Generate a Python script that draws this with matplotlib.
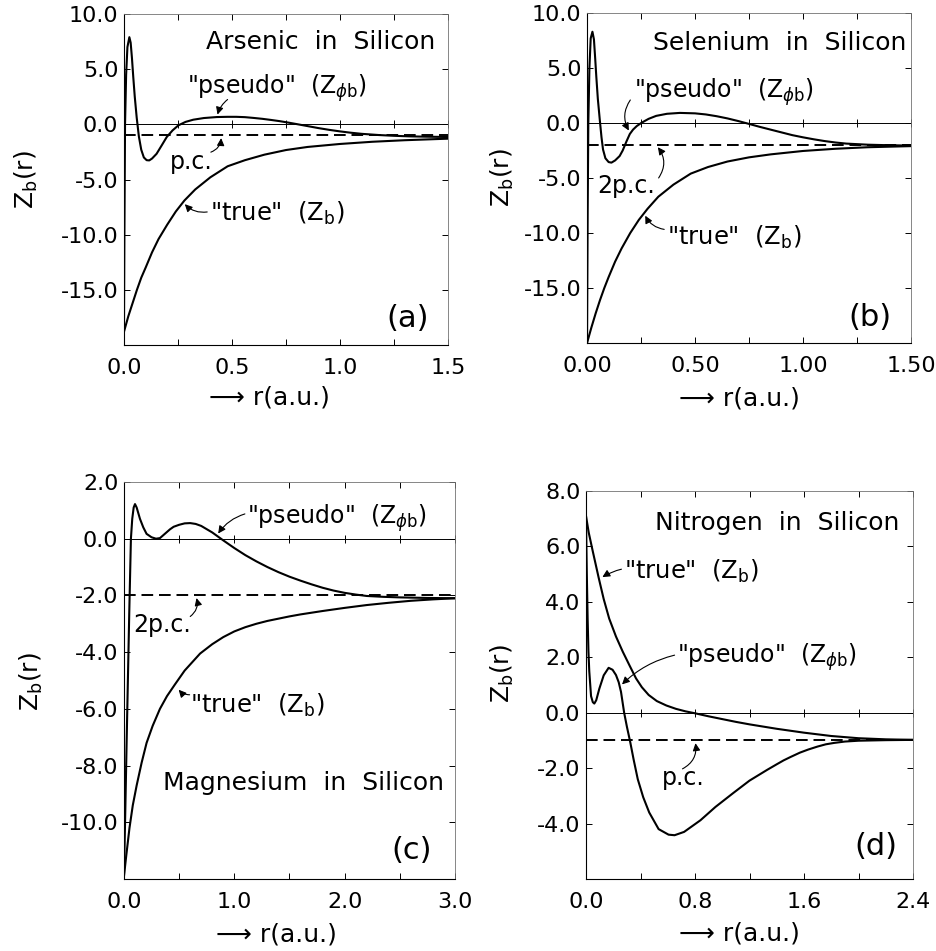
import numpy as np
import matplotlib.pyplot as plt
from matplotlib.ticker import MultipleLocator

plt.rcParams['font.family'] = ['DejaVu Sans']
plt.rcParams['mathtext.fontset'] = 'dejavusans'

# (a) Arsenic in silicon
as_r_pseudo = [0.0, 0.002, 0.005, 0.010, 0.016, 0.025, 0.031, 0.037, 0.043, 0.050,
               0.059, 0.069, 0.080, 0.092, 0.105, 0.117, 0.130, 0.151, 0.175, 0.198,
               0.225, 0.252, 0.285, 0.321, 0.37, 0.43, 0.48, 0.52, 0.56, 0.60,
               0.64, 0.68, 0.72, 0.76, 0.80, 0.85, 0.90, 0.95, 1.0, 1.05,
               1.1, 1.18, 1.25, 1.32, 1.4, 1.5]
as_z_pseudo = [-18.8, -10.0, 0.0, 4.5, 7.0, 7.9, 7.4, 6.0, 4.3, 2.5,
               0.6, -1.1, -2.3, -3.0, -3.25, -3.27, -3.1, -2.67, -1.9, -1.15,
               -0.55, -0.09, 0.22, 0.42, 0.57, 0.66, 0.68, 0.68, 0.65, 0.58,
               0.5, 0.40, 0.29, 0.16, 0.02, -0.16, -0.34, -0.5, -0.64, -0.76,
               -0.86, -0.97, -1.04, -1.09, -1.12, -1.15]
as_r_true = [0.0, 0.02, 0.04, 0.06, 0.08, 0.10, 0.13, 0.16, 0.20, 0.24, 0.28,
             0.33, 0.40, 0.48, 0.56, 0.65, 0.75, 0.85, 1.0, 1.15, 1.3, 1.5]
as_z_true = [-18.8, -17.4, -16.2, -15.0, -13.9, -13.0, -11.6, -10.4, -9.1, -7.9, -6.9,
             -5.9, -4.8, -3.8, -3.25, -2.75, -2.33, -2.05, -1.78, -1.58, -1.44, -1.3]
as_pc = -1.0

# (b) Selenium in silicon
se_r_pseudo = [0.0, 0.003, 0.006, 0.011, 0.017, 0.025, 0.032, 0.038, 0.043, 0.050,
               0.059, 0.067, 0.074, 0.085, 0.100, 0.113, 0.130, 0.151, 0.165, 0.182,
               0.198, 0.213, 0.230, 0.252, 0.285, 0.32, 0.37, 0.43, 0.50, 0.55,
               0.60, 0.65, 0.70, 0.75, 0.80, 0.85, 0.90, 0.95, 1.0, 1.05,
               1.1, 1.15, 1.2, 1.3, 1.4, 1.5]
se_z_pseudo = [-20.0, -8.0, 0.0, 5.0, 7.7, 8.3, 7.6, 5.8, 4.2, 2.2,
               0.3, -1.3, -2.4, -3.2, -3.55, -3.6, -3.4, -3.0, -2.5, -1.7,
               -1.0, -0.6, -0.28, 0.02, 0.38, 0.65, 0.84, 0.92, 0.88, 0.78,
               0.62, 0.42, 0.18, -0.08, -0.35, -0.6, -0.85, -1.1, -1.3, -1.48,
               -1.64, -1.77, -1.87, -1.97, -2.02, -2.05]
se_r_true = [0.0, 0.02, 0.04, 0.06, 0.08, 0.10, 0.13, 0.16, 0.20, 0.24, 0.28,
             0.33, 0.40, 0.48, 0.56, 0.65, 0.75, 0.85, 1.0, 1.15, 1.3, 1.5]
se_z_true = [-20.0, -18.6, -17.3, -16.1, -15.0, -14.0, -12.6, -11.4, -10.0, -8.8, -7.8,
             -6.7, -5.6, -4.6, -4.0, -3.5, -3.12, -2.85, -2.54, -2.34, -2.2, -2.1]
se_pc = -2.0

# (c) Magnesium in silicon
mg_r_pseudo = [0.0, 0.012, 0.024, 0.036, 0.048, 0.063, 0.075, 0.088, 0.10, 0.115,
               0.13, 0.145, 0.175, 0.205, 0.25, 0.29, 0.326, 0.37, 0.417, 0.45,
               0.50, 0.55, 0.60, 0.65, 0.70, 0.80, 0.90, 1.0, 1.1, 1.2,
               1.3, 1.4, 1.5, 1.6, 1.7, 1.8, 1.9, 2.0, 2.1, 2.2,
               2.35, 2.5, 2.75, 3.0]
mg_z_pseudo = [-11.9, -9.6, -7.2, -4.9, -2.6, 0.0, 0.7, 1.1, 1.22, 1.1,
               0.9, 0.7, 0.4, 0.17, 0.05, 0.0, 0.02, 0.17, 0.33, 0.42,
               0.49, 0.54, 0.55, 0.52, 0.45, 0.22, -0.06, -0.33, -0.58, -0.8,
               -1.0, -1.18, -1.34, -1.48, -1.61, -1.73, -1.83, -1.91, -1.97, -2.02,
               -2.05, -2.07, -2.09, -2.1]
mg_r_true = [0.0, 0.02, 0.05, 0.08, 0.115, 0.16, 0.205, 0.26, 0.326, 0.39, 0.46,
             0.55, 0.69, 0.8, 0.9, 1.0, 1.1, 1.2, 1.3, 1.4, 1.5, 1.6,
             1.8, 2.0, 2.2, 2.4, 2.6, 2.8, 3.0]
mg_z_true = [-11.9, -11.2, -10.2, -9.4, -8.7, -7.9, -7.2, -6.6, -6.0, -5.55, -5.15,
             -4.65, -4.05, -3.72, -3.47, -3.27, -3.12, -3.0, -2.9, -2.82, -2.74, -2.67,
             -2.55, -2.44, -2.34, -2.26, -2.19, -2.14, -2.1]
mg_pc = -2.0

# (d) Nitrogen in silicon
n_r_pseudo = [0.0, 0.006, 0.012, 0.018, 0.024, 0.037, 0.05, 0.061, 0.075, 0.098,
              0.13, 0.166, 0.195, 0.22, 0.24, 0.257, 0.28, 0.30, 0.325, 0.35,
              0.38, 0.42, 0.464, 0.533, 0.606, 0.65, 0.72, 0.84, 0.95, 1.08,
              1.2, 1.33, 1.4, 1.45, 1.5, 1.57, 1.63, 1.7, 1.76, 1.82,
              1.9, 2.0, 2.2, 2.4]
n_z_pseudo = [7.05, 5.0, 3.4, 2.2, 1.5, 0.6, 0.38, 0.33, 0.45, 0.87,
              1.35, 1.62, 1.55, 1.36, 1.1, 0.75, 0.0, -0.5, -1.07, -1.7,
              -2.4, -3.05, -3.6, -4.2, -4.4, -4.42, -4.3, -3.88, -3.4, -2.9,
              -2.45, -2.06, -1.86, -1.72, -1.6, -1.44, -1.33, -1.22, -1.14, -1.09,
              -1.04, -1.01, -0.99, -0.98]
n_r_true = [0.0, 0.02, 0.049, 0.093, 0.13, 0.17, 0.22, 0.27, 0.32, 0.367, 0.41,
            0.46, 0.52, 0.59, 0.66, 0.73, 0.8, 0.9, 1.0, 1.1, 1.2, 1.3,
            1.4, 1.5, 1.6, 1.7, 1.8, 1.9, 2.0, 2.1, 2.2, 2.3, 2.4]
n_z_true = [7.1, 6.5, 5.84, 4.87, 4.1, 3.4, 2.75, 2.2, 1.7, 1.24, 0.92,
            0.64, 0.42, 0.26, 0.14, 0.05, -0.02, -0.13, -0.23, -0.33, -0.42, -0.5,
            -0.58, -0.65, -0.72, -0.78, -0.84, -0.88, -0.92, -0.94, -0.96, -0.97, -0.98]
n_pc = -1.0

panels = [
    dict(rect=[0.1323, 0.6372, 0.3458, 0.3481], xlim=(0, 1.5), ylim=(-20, 10),
         xmaj=[0.0, 0.5, 1.0, 1.5], xlab=['0.0', '0.5', '1.0', '1.5'], xmin=0.25,
         ymaj=[10, 5, 0, -5, -10, -15], ylab=['10.0', '5.0', '0.0', '-5.0', '-10.0', '-15.0'],
         rp=as_r_pseudo, zp=as_z_pseudo, rt=as_r_true, zt=as_z_true, pc=as_pc,
         title='Arsenic  in  Silicon', title_xy=(1.44, 7.45), letter='(a)', letter_xy=(1.315, -17.6),
         pseudo_txt=(0.29, 3.3), pseudo_from=(0.49, 2.4), pseudo_to=(0.43, 0.64), pseudo_rad=0.2,
         pc_txt='p.c.', pc_pos=(0.213, -3.45), pc_from=(0.39, -2.6), pc_to=(0.45, -1.0), pc_rad=0.4,
         true_txt=(0.40, -8.1), true_from=(0.398, -7.9), true_to=(0.273, -7.05), true_rad=-0.3,
         xl=(0.45, -0.16), yl=(-0.3, 0.5)),
    dict(rect=[0.6265, 0.6393, 0.3458, 0.3470], xlim=(0, 1.5), ylim=(-20, 10),
         xmaj=[0.0, 0.5, 1.0, 1.5], xlab=['0.00', '0.50', '1.00', '1.50'], xmin=0.25,
         ymaj=[10, 5, 0, -5, -10, -15], ylab=['10.0', '5.0', '0.0', '-5.0', '-10.0', '-15.0'],
         rp=se_r_pseudo, zp=se_z_pseudo, rt=se_r_true, zt=se_z_true, pc=se_pc,
         title='Selenium  in  Silicon', title_xy=(1.48, 7.3), letter='(b)', letter_xy=(1.31, -17.7),
         pseudo_txt=(0.218, 2.8), pseudo_from=(0.208, 2.3), pseudo_to=(0.2, -0.9), pseudo_rad=0.35,
         pc_txt='2p.c.', pc_pos=(0.046, -5.7), pc_from=(0.324, -5.2), pc_to=(0.32, -2.0), pc_rad=0.4,
         true_txt=(0.37, -10.4), true_from=(0.37, -9.7), true_to=(0.264, -8.2), true_rad=-0.3,
         xl=(0.47, -0.167), yl=(-0.26, 0.5)),
    dict(rect=[0.1323, 0.0757, 0.3533, 0.4175], xlim=(0, 3.0), ylim=(-12, 2),
         xmaj=[0.0, 1.0, 2.0, 3.0], xlab=['0.0', '1.0', '2.0', '3.0'], xmin=0.5,
         ymaj=[2, 0, -2, -4, -6, -8, -10], ylab=['2.0', '0.0', '-2.0', '-4.0', '-6.0', '-8.0', '-10.0'],
         rp=mg_r_pseudo, zp=mg_z_pseudo, rt=mg_r_true, zt=mg_z_true, pc=mg_pc,
         title='Magnesium  in  Silicon', title_xy=(2.9, -8.6), letter='(c)', letter_xy=(2.61, -11.0),
         pseudo_txt=(1.115, 0.74), pseudo_from=(1.12, 0.9), pseudo_to=(0.84, 0.1), pseudo_rad=0.2,
         pc_txt='2p.c.', pc_pos=(0.08, -3.05), pc_from=(0.58, -2.8), pc_to=(0.65, -2.0), pc_rad=0.4,
         true_txt=(0.60, -5.88), true_from=(0.62, -5.5), true_to=(0.48, -5.25), true_rad=-0.3,
         xl=(0.46, -0.141), yl=(-0.28, 0.496)),
    dict(rect=[0.6254, 0.0757, 0.3490, 0.4080], xlim=(0, 2.4), ylim=(-6, 8),
         xmaj=[0.0, 0.8, 1.6, 2.4], xlab=['0.0', '0.8', '1.6', '2.4'], xmin=0.4,
         ymaj=[8, 6, 4, 2, 0, -2, -4], ylab=['8.0', '6.0', '4.0', '2.0', '0.0', '-2.0', '-4.0'],
         rp=n_r_pseudo, zp=n_z_pseudo, rt=n_r_true, zt=n_z_true, pc=n_pc,
         title='Nitrogen  in  Silicon', title_xy=(2.3, 6.84), letter='(d)', letter_xy=(2.13, -4.84),
         pseudo_txt=(0.67, 2.0), pseudo_from=(0.67, 2.1), pseudo_to=(0.25, 0.95), pseudo_rad=0.15,
         pc_txt='p.c.', pc_pos=(0.56, -2.36), pc_from=(0.69, -2.07), pc_to=(0.8, -1.0), pc_rad=0.4,
         true_txt=(0.28, 5.1), true_from=(0.28, 5.2), true_to=(0.103, 4.84), true_rad=0.1,
         xl=(0.47, -0.14), yl=(-0.255, 0.53)),
]

fig = plt.figure(figsize=(9.37, 9.51), dpi=100)
arrow = dict(arrowstyle='-|>', lw=0.8, color='black', mutation_scale=11)

for p in panels:
    ax = fig.add_axes(p['rect'])
    ax.set_xlim(*p['xlim'])
    ax.set_ylim(*p['ylim'])

    ax.axhline(0, color='black', lw=0.7)
    ax.axhline(p['pc'], color='black', lw=1.4, ls=(0, (6, 3)))
    ax.plot(p['rt'], p['zt'], color='black', lw=1.5)
    ax.plot(p['rp'], p['zp'], color='black', lw=1.5)

    ax.set_xticks(p['xmaj'])
    ax.set_xticklabels(p['xlab'])
    ax.set_yticks(p['ymaj'])
    ax.set_yticklabels(p['ylab'])
    ax.xaxis.set_minor_locator(MultipleLocator(p['xmin']))
    ax.tick_params(which='both', direction='in', top=True, right=True,
                   labelsize=16, length=4, width=0.7)
    ax.tick_params(axis='x', pad=9)
    ax.tick_params(axis='y', pad=4)
    # little crosses on the zero line
    zt = np.arange(p['xlim'][0], p['xlim'][1] + 1e-9, p['xmin'])
    ax.plot(zt, np.zeros_like(zt), '|', color='black', ms=6, mew=0.7)
    for s in ['top', 'right']:
        ax.spines[s].set_color('0.45')
        ax.spines[s].set_linewidth(0.6)
    for s in ['left', 'bottom']:
        ax.spines[s].set_linewidth(0.8)

    ax.text(*p['title_xy'], p['title'], ha='right', va='center', fontsize=18)
    ax.text(*p['letter_xy'], p['letter'], ha='center', va='center', fontsize=22)

    ax.text(*p['pseudo_txt'], '"pseudo"  (Z$_{\\phi\\mathrm{b}}$)', ha='left', va='center', fontsize=17)
    ax.annotate('', xy=p['pseudo_to'], xytext=p['pseudo_from'],
                arrowprops=dict(connectionstyle='arc3,rad=%s' % p['pseudo_rad'], **arrow))
    ax.text(*p['pc_pos'], p['pc_txt'], ha='left', va='center', fontsize=17)
    ax.annotate('', xy=p['pc_to'], xytext=p['pc_from'],
                arrowprops=dict(connectionstyle='arc3,rad=%s' % p['pc_rad'], **arrow))
    ax.text(*p['true_txt'], '"true"  (Z$_{\\mathrm{b}}$)', ha='left', va='center', fontsize=17.5)
    ax.annotate('', xy=p['true_to'], xytext=p['true_from'],
                arrowprops=dict(connectionstyle='arc3,rad=%s' % p['true_rad'], **arrow))

    ax.text(*p['xl'], '\u27f6 r(a.u.)', transform=ax.transAxes, ha='center', va='center', fontsize=18)
    ax.text(*p['yl'], 'Z$_{\\mathrm{b}}$(r)', transform=ax.transAxes, ha='center', va='center',
            rotation=90, fontsize=18)

fig.savefig('out.png', dpi=100)
